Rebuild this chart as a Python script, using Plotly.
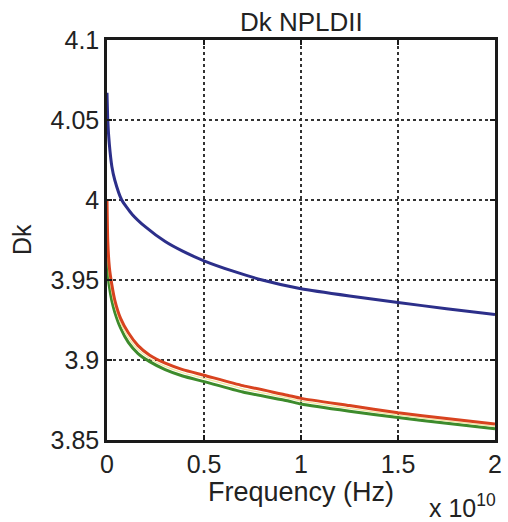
import plotly.graph_objects as go

# Frequency in units of 1e10 Hz
blue_f = [0, 0.004, 0.012, 0.025, 0.04, 0.076, 0.13, 0.20, 0.30, 0.39, 0.5, 0.65, 0.8, 1.0, 1.25, 1.5, 1.75, 2.0]
blue_v = [4.067, 4.050, 4.035, 4.021, 4.0125, 4.000, 3.991, 3.983, 3.974, 3.968, 3.962, 3.9555, 3.950, 3.9445, 3.940, 3.936, 3.932, 3.9285]

red_f = [0, 0.004, 0.012, 0.025, 0.04, 0.07, 0.11, 0.16, 0.22, 0.30, 0.39, 0.5, 0.7, 0.93, 1.0, 1.25, 1.5, 1.75, 2.0]
red_v = [4.000, 3.974, 3.958, 3.947, 3.9375, 3.926, 3.917, 3.909, 3.903, 3.898, 3.894, 3.8905, 3.884, 3.8780, 3.876, 3.8715, 3.867, 3.8635, 3.860]

green_f = [0, 0.004, 0.012, 0.025, 0.04, 0.07, 0.11, 0.16, 0.22, 0.30, 0.39, 0.5, 0.7, 0.93, 1.0, 1.25, 1.5, 1.75, 2.0]
green_v = [3.966, 3.955, 3.946, 3.937, 3.930, 3.920, 3.911, 3.904, 3.899, 3.894, 3.890, 3.8865, 3.880, 3.8745, 3.8725, 3.868, 3.864, 3.8605, 3.857]

yellow_f = [0, 0.004, 0.012, 0.025, 0.04, 0.07, 0.11, 0.16, 0.22, 0.30, 0.39, 0.5, 0.7, 0.93, 1.0, 1.25, 1.5, 1.75, 2.0]
yellow_v = [3.983, 3.964, 3.952, 3.942, 3.934, 3.923, 3.914, 3.9065, 3.901, 3.896, 3.892, 3.8885, 3.882, 3.8763, 3.8743, 3.8698, 3.8655, 3.862, 3.8585]

x_tickvals = [0, 0.5, 1.0, 1.5, 2.0]
x_ticktext = ["0", "0.5", "1", "1.5", "2"]
y_tickvals = [3.85, 3.9, 3.95, 4.0, 4.05, 4.1]
y_ticktext = ["3.85", "3.9", "3.95", "4", "4.05", "4.1"]

SCALE = 1e10
FONT = "Liberation Sans, Arial, sans-serif"
TXT = "#222222"

fig = go.Figure()
line_shape = dict(shape="spline", smoothing=0.5)
fig.add_trace(go.Scatter(x=[f * SCALE for f in green_f], y=green_v, mode="lines",
                         line=dict(color="#3d8b2c", width=3, **line_shape)))
fig.add_trace(go.Scatter(x=[f * SCALE for f in yellow_f], y=yellow_v, mode="lines",
                         line=dict(color="#f2e6a0", width=1.2, **line_shape)))
fig.add_trace(go.Scatter(x=[f * SCALE for f in red_f], y=red_v, mode="lines",
                         line=dict(color="#d8431f", width=3, **line_shape)))
fig.add_trace(go.Scatter(x=[f * SCALE for f in blue_f], y=blue_v, mode="lines",
                         line=dict(color="#2c2f8a", width=3, **line_shape)))

axis_common = dict(
    showline=True, linecolor="#1a1a1a", linewidth=2.5, mirror="allticks",
    ticks="inside", ticklen=5, tickwidth=2, tickcolor="#1a1a1a",
    showgrid=True, gridcolor="#333333", griddash="dot", gridwidth=1.5,
    zeroline=False, tickfont=dict(family=FONT, size=25, color=TXT),
)

fig.update_xaxes(range=[0, 2 * SCALE], tickvals=[v * SCALE for v in x_tickvals],
                 ticktext=x_ticktext, **axis_common)
fig.update_yaxes(range=[3.85, 4.1], tickvals=y_tickvals, ticktext=y_ticktext, **axis_common)

fig.update_layout(
    width=508, height=522,
    margin=dict(l=107, r=6, t=40, b=82),
    paper_bgcolor="white", plot_bgcolor="white",
    showlegend=False,
    font=dict(family=FONT, color=TXT, size=25),
    annotations=[
        dict(text="Dk NPLDII", xref="paper", yref="paper", x=0.5, y=1, yanchor="bottom",
             xanchor="center", yshift=1, showarrow=False, font=dict(family=FONT, size=26, color=TXT)),
        dict(text="Frequency (Hz)", xref="paper", yref="paper", x=0.5, y=0, yanchor="middle",
             xanchor="center", yshift=-52, showarrow=False, font=dict(family=FONT, size=27, color=TXT)),
        dict(text="Dk", xref="paper", yref="paper", x=0, y=0.5, xanchor="center",
             yanchor="middle", xshift=-85, textangle=-90, showarrow=False, font=dict(family=FONT, size=25, color=TXT)),
        dict(text="x 10<sup>10</sup>", xref="paper", yref="paper", x=1, y=0, xanchor="right",
             yanchor="middle", xshift=3, yshift=-66, showarrow=False, font=dict(family=FONT, size=25, color=TXT)),
    ],
)

fig.write_html("out.html", config={"displayModeBar": False},
               post_script="document.body.style.margin='0';")
